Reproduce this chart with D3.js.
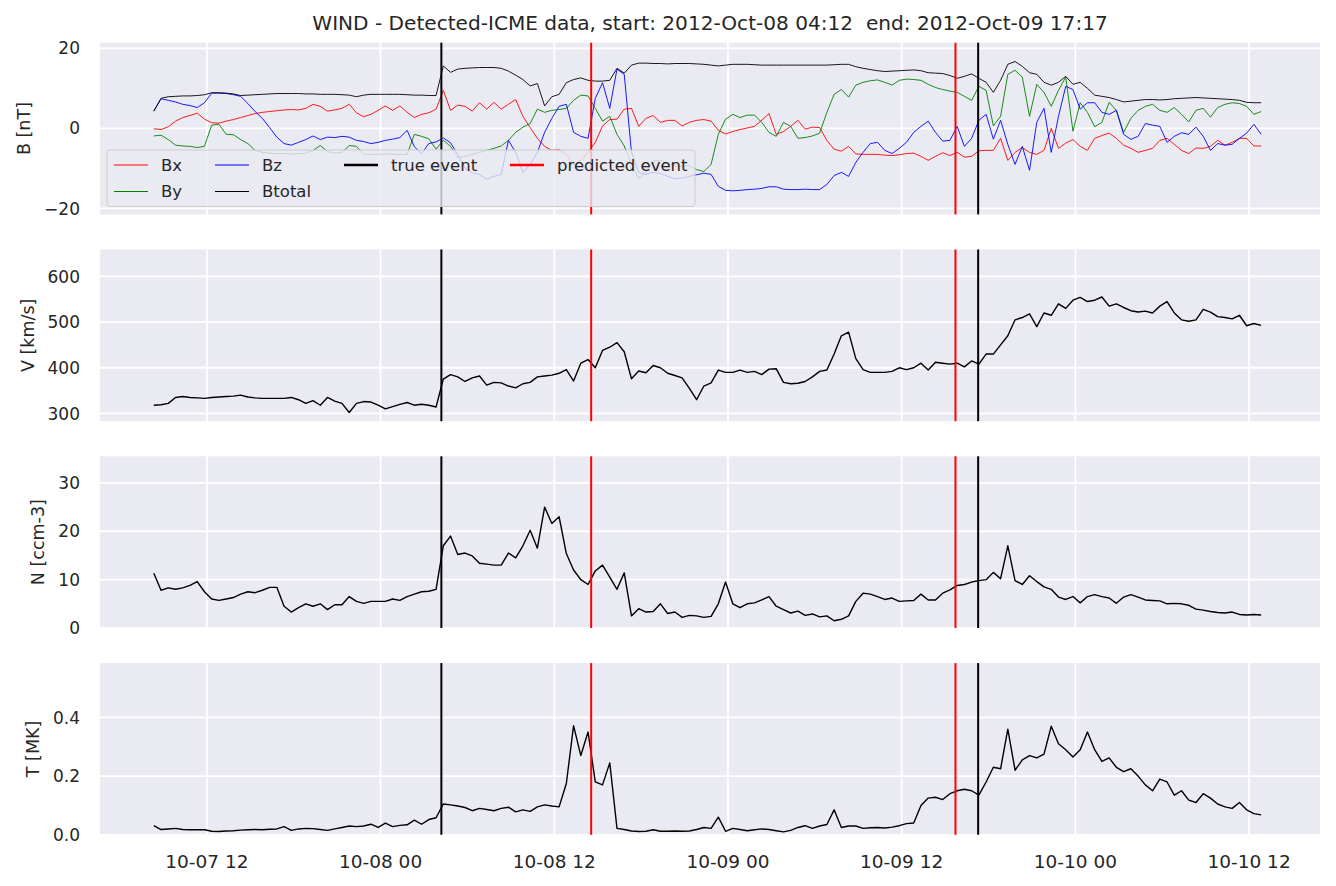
<!DOCTYPE html>
<html><head><meta charset="utf-8">
<script src="https://cdn.jsdelivr.net/npm/d3@7"></script>
<style>
body{margin:0;background:#fff}
svg{display:block}
text{font-family:"DejaVu Sans",sans-serif;fill:#262626;white-space:pre}
</style>
</head><body>
<svg id="chart" width="1336" height="886"></svg>
<script>
// ---------------- DATA ----------------
const titleText = "WIND - Detected-ICME data, start: 2012-Oct-08 04:12  end: 2012-Oct-09 17:17";
const startTime = "2012-10-07T08:20:00";
const stepMinutes = 30;

const Bx = [-0.1,-0.3,0.4,1.8,2.7,3.2,3.8,2.3,1.4,1.3,
 1.8,2.2,2.7,3.2,3.7,4.0,4.2,4.4,4.6,4.7,
 4.6,5.0,6.0,5.5,4.3,4.6,5.0,6.0,3.9,2.9,
 3.5,4.5,5.6,4.5,5.6,4.0,2.7,3.5,3.9,4.8,
 9.5,4.5,5.8,5.5,4.3,6.4,4.8,6.5,4.8,6.0,
 7.2,3.0,0.2,-2.5,-4.5,-5.5,-5.3,-6.5,-9.0,-8.0,
 -6.0,-3.5,0.6,2.2,2.3,4.8,5.0,0.5,2.5,3.2,
 1.5,2.0,2.0,0.6,1.5,2.0,2.2,1.8,-0.5,-1.4,
 -0.8,-0.3,0.1,0.5,2.0,3.7,-1.5,-0.8,0.5,2.0,
 -0.2,0.3,0.2,-3.0,-5.2,-5.7,-4.5,-6.4,-6.5,-6.5,
 -6.5,-6.7,-6.8,-6.6,-6.3,-6.2,-7.0,-8.0,-7.0,-6.1,
 -6.8,-6.0,-7.2,-7.0,-5.6,-5.5,-5.5,-2.5,-8.0,-6.0,
 -4.8,-6.0,-6.5,-5.5,0.0,-5.0,-3.7,-2.8,-4.5,-5.5,
 -2.5,-1.8,-1.2,-2.5,-4.2,-5.0,-6.0,-5.5,-5.0,-3.0,
 -2.5,-4.0,-5.5,-6.3,-4.9,-5.0,-4.5,-3.0,-4.2,-3.5,
 -2.5,-2.5,-4.4,-4.4];

const By = [-1.9,-1.7,-2.8,-4.2,-4.4,-4.5,-4.8,-4.5,0.8,1.0,
 -1.5,-1.6,-2.8,-3.8,-5.5,-6.0,-6.2,-6.3,-6.3,-6.4,
 -6.3,-6.2,-5.5,-4.3,-5.8,-6.2,-6.0,-4.3,-4.5,-6.5,
 -6.5,-6.5,-6.4,-6.5,-6.5,-6.5,-1.5,-2.0,-2.6,-5.2,
 -3.0,-4.5,-7.3,-7.0,-6.5,-6.0,-5.5,-5.0,-4.4,-3.0,
 -1.0,0.3,1.2,4.8,4.0,4.5,4.7,5.0,7.0,8.3,
 8.1,5.0,1.8,3.0,-1.5,-4.4,-9.0,-12.5,-11.0,-8.2,
 -8.0,-8.8,-9.4,-9.4,-9.4,-10.3,-10.8,-9.0,-1.5,2.3,
 3.5,2.7,3.3,3.3,1.5,-1.0,-2.0,1.5,0.5,-2.5,
 -2.3,-1.9,-1.2,4.0,8.5,9.7,7.8,10.8,11.5,11.9,
 12.1,11.5,10.8,12.0,12.3,12.2,12.0,11.0,10.2,9.7,
 9.3,9.0,8.0,7.0,10.5,9.5,0.6,3.0,13.5,14.5,
 12.8,3.0,11.0,9.0,5.5,9.5,12.8,-0.7,6.4,4.0,
 0.4,1.5,6.5,4.5,-1.0,2.5,4.5,5.5,6.0,4.5,
 4.0,5.2,3.5,1.6,4.5,5.0,2.8,5.2,6.0,6.4,
 6.2,5.5,3.5,4.2];

const Bz = [4.3,7.4,7.0,6.6,6.0,5.7,5.2,6.4,8.8,8.8,
 8.7,8.4,8.0,6.2,4.2,2.5,0.2,-2.2,-3.8,-4.2,
 -3.5,-2.8,-1.9,-2.8,-2.2,-2.3,-2.0,-2.2,-3.0,-3.3,
 -3.8,-3.5,-3.0,-2.7,-2.3,-0.5,-4.6,-6.3,-3.8,-3.4,
 -2.4,-3.6,-6.5,-10.0,-11.1,-11.5,-12.7,-12.0,-11.5,-3.0,
 -6.0,-11.0,-9.0,-6.0,-1.0,2.5,5.5,6.0,-1.0,-2.0,
 -2.5,7.5,11.4,5.0,14.8,13.5,-6.0,-11.0,-11.5,-11.0,
 -11.3,-12.0,-12.6,-12.4,-12.0,-11.6,-11.2,-11.5,-14.5,-15.5,
 -15.6,-15.5,-15.3,-15.2,-15.0,-14.6,-14.6,-15.2,-15.3,-15.3,
 -15.2,-15.3,-15.3,-14.0,-11.8,-11.0,-12.0,-8.5,-6.0,-3.8,
 -3.5,-5.5,-6.3,-5.0,-3.5,-1.0,0.5,1.8,-1.0,-3.2,
 -3.0,0.5,-4.5,-2.5,2.0,3.5,-2.7,2.0,-4.0,-9.0,
 -4.5,-10.5,1.5,5.0,-6.0,3.0,10.5,9.7,4.8,6.4,
 6.4,4.0,3.5,4.5,-1.5,-2.75,-2.0,1.2,0.8,0.5,
 -3.5,-2.0,-1.1,-1.5,0.3,-2.0,-5.5,-3.8,-4.2,-4.0,
 -2.5,-1.2,1.0,-1.5];

const Btotal = [4.3,7.5,7.9,8.0,8.1,8.1,8.2,8.4,8.9,8.9,
 8.8,8.6,8.2,8.3,8.4,8.5,8.6,8.7,8.7,8.7,
 8.7,8.6,8.6,8.5,8.5,8.5,8.4,8.3,7.9,8.3,
 8.5,8.5,8.5,8.5,8.5,8.4,8.3,8.3,8.2,8.2,
 15.6,14.0,14.8,15.0,15.1,15.2,15.2,15.2,15.0,14.3,
 13.3,12.2,10.6,11.2,5.6,7.9,8.5,11.4,12.2,12.6,
 12.0,11.8,11.8,12.0,15.0,13.8,15.8,16.3,16.3,16.2,
 16.2,16.1,16.2,16.2,16.2,16.1,16.0,15.8,15.6,15.8,
 16.0,16.0,16.0,15.9,15.8,15.8,15.8,15.8,15.8,15.8,
 15.8,15.8,15.8,15.8,15.9,16.0,16.0,15.4,15.0,14.7,
 14.4,14.2,14.3,14.4,14.5,14.6,14.4,13.9,13.8,13.7,
 13.2,12.5,13.0,13.6,12.5,11.5,9.0,12.0,16.0,16.7,
 15.5,13.9,13.5,11.5,10.8,11.5,13.0,11.0,11.5,10.0,
 8.3,8.0,7.7,7.2,6.6,6.8,7.0,7.2,7.2,7.1,
 7.2,7.4,7.5,7.6,7.7,7.6,7.5,7.4,7.3,7.2,
 7.0,6.5,6.4,6.4];

const V = [318,319,322,335,337,335,334,333,335,336,
 337,338,340,336,334,333,333,333,333,335,
 330,322,328,318,335,327,322,302,322,326,
 325,318,310,315,320,324,318,320,318,314,
 375,385,380,370,378,382,362,368,367,360,
 356,365,368,380,382,384,388,396,371,410,
 418,400,438,445,455,435,376,393,389,405,
 400,388,383,378,355,330,360,367,395,390,
 390,395,390,392,385,397,398,368,365,366,
 370,380,392,395,430,470,478,420,396,390,
 390,390,392,400,396,400,410,395,412,410,
 408,410,402,415,408,430,430,450,470,505,
 510,518,490,520,515,540,530,548,554,545,
 548,555,535,540,532,525,522,524,520,535,
 545,520,505,502,505,528,522,512,510,507,
 515,492,497,493];

const N = [11.3,7.8,8.3,8.0,8.3,8.8,9.6,7.5,6.0,5.7,
 6.0,6.3,7.0,7.5,7.3,7.8,8.4,8.4,4.5,3.3,
 4.2,5.0,4.5,5.0,3.8,4.8,4.8,6.5,5.5,5.1,
 5.5,5.5,5.5,6.0,5.7,6.5,7.0,7.5,7.6,8.0,
 17.0,19.0,15.2,15.5,14.9,13.4,13.2,13.0,13.0,15.5,
 14.5,17.0,20.2,16.5,25.0,21.6,23.0,15.4,12.0,10.0,
 9.0,11.8,13.0,10.5,8.0,11.4,2.5,4.0,3.3,3.4,
 5.0,3.0,3.3,2.2,2.6,2.5,2.2,2.4,5.0,9.5,
 5.0,4.2,5.0,5.2,5.8,6.5,4.5,3.8,3.1,3.5,
 2.6,2.9,2.3,2.5,1.5,1.8,2.5,5.5,7.2,7.0,
 6.5,5.9,6.2,5.5,5.6,5.7,7.0,5.8,5.8,7.2,
 7.9,8.8,9.0,9.5,9.8,10.0,11.5,10.2,17.0,9.8,
 9.0,10.8,9.6,8.5,8.0,6.4,5.9,6.5,5.2,6.5,
 6.9,6.5,6.2,5.1,6.4,6.9,6.4,5.8,5.7,5.6,
 5.0,5.1,5.0,4.7,3.9,3.7,3.4,3.2,3.1,3.3,
 2.8,2.7,2.8,2.7];

const T = [0.031,0.018,0.020,0.022,0.018,0.017,0.017,0.017,0.012,0.011,
 0.013,0.014,0.016,0.017,0.018,0.017,0.019,0.020,0.028,0.015,
 0.020,0.022,0.021,0.018,0.015,0.020,0.025,0.030,0.028,0.030,
 0.036,0.025,0.040,0.028,0.032,0.034,0.050,0.036,0.052,0.058,
 0.105,0.102,0.098,0.093,0.082,0.090,0.086,0.082,0.090,0.094,
 0.078,0.085,0.080,0.095,0.102,0.098,0.095,0.175,0.372,0.270,
 0.350,0.180,0.170,0.245,0.022,0.018,0.013,0.011,0.012,0.017,
 0.012,0.012,0.013,0.012,0.013,0.018,0.025,0.022,0.060,0.012,
 0.022,0.018,0.014,0.017,0.020,0.018,0.014,0.010,0.015,0.025,
 0.031,0.022,0.030,0.035,0.085,0.025,0.030,0.030,0.022,0.024,
 0.025,0.023,0.026,0.031,0.038,0.040,0.100,0.125,0.128,0.120,
 0.140,0.150,0.155,0.150,0.135,0.180,0.230,0.225,0.360,0.220,
 0.255,0.270,0.262,0.275,0.370,0.310,0.290,0.265,0.290,0.350,
 0.290,0.250,0.262,0.230,0.215,0.225,0.200,0.170,0.150,0.190,
 0.180,0.135,0.150,0.118,0.110,0.140,0.125,0.105,0.095,0.090,
 0.110,0.085,0.072,0.068];

const trueEvent = ["2012-10-08T04:12:00", "2012-10-09T17:17:00"];
const predictedEvent = ["2012-10-08T14:33:00", "2012-10-09T15:43:00"];
const xTickTimes = ["2012-10-07T12:00:00","2012-10-08T00:00:00","2012-10-08T12:00:00",
  "2012-10-09T00:00:00","2012-10-09T12:00:00","2012-10-10T00:00:00","2012-10-10T12:00:00"];
const bTicks = [-20, 0, 20];
const vTicks = [300, 400, 500, 600];
const nTicks = [0, 10, 20, 30];
const tTicks = [0.0, 0.2, 0.4];
const bSeriesNames = ["Bx", "By", "Bz", "Btotal"];
const bSeriesColors = ["red", "green", "blue", "black"];

// ---------------- CHART ----------------
const parse = d3.timeParse("%Y-%m-%dT%H:%M:%S");
const t0 = parse(startTime);
const times = V.map((_, i) => d3.timeMinute.offset(t0, i * stepMinutes));

const svg = d3.select("#chart");
const L = 100, R = 1320;
const panelH = 171.7, panelStep = 206.8, top0 = 42.7;
const x = d3.scaleTime()
  .domain([parse("2012-10-07T04:37:00"), parse("2012-10-10T16:54:00")])
  .range([L, R]);
const xTicks = xTickTimes.map(parse);
const bg = "#EAEAF2";

const panels = [
  {label: "B [nT]", domain: [-21.5, 21.4], ticks: bTicks, fmt: d3.format("d"),
   series: [Bx, By, Bz, Btotal].map((v, k) => ({values: v, color: bSeriesColors[k], width: 0.9}))},
  {label: "V [km/s]", domain: [283, 659], ticks: vTicks, fmt: d3.format("d"),
   series: [{values: V, color: "black", width: 1.4}]},
  {label: "N [ccm-3]", domain: [0, 35.5], ticks: nTicks, fmt: d3.format("d"),
   series: [{values: N, color: "black", width: 1.4}]},
  {label: "T [MK]", domain: [0, 0.585], ticks: tTicks, fmt: d3.format(".1f"),
   series: [{values: T, color: "black", width: 1.4}]}
];

svg.append("text").attr("x", (L + R) / 2).attr("y", 30)
  .attr("text-anchor", "middle").attr("xml:space", "preserve")
  .style("font-size", "20.1px").text(titleText);

panels.forEach((p, k) => {
  const top = top0 + k * panelStep, bot = top + panelH;
  const y = d3.scaleLinear().domain(p.domain).range([bot, top]);
  const g = svg.append("g");
  const clipId = "clip" + k;
  svg.append("clipPath").attr("id", clipId).append("rect")
    .attr("x", L).attr("y", top).attr("width", R - L).attr("height", panelH);
  g.append("rect").attr("x", L).attr("y", top).attr("width", R - L).attr("height", panelH).attr("fill", bg);
  // grid
  g.selectAll(".gx").data(xTicks).join("line")
    .attr("x1", d => x(d)).attr("x2", d => x(d)).attr("y1", top).attr("y2", bot)
    .attr("stroke", "white").attr("stroke-width", 1.8);
  g.selectAll(".gy").data(p.ticks).join("line")
    .attr("x1", L).attr("x2", R).attr("y1", d => y(d)).attr("y2", d => y(d))
    .attr("stroke", "white").attr("stroke-width", 1.8);
  // y tick labels
  const tl = g.selectAll(".yt").data(p.ticks).join("text")
    .attr("x", L - 20).attr("y", d => y(d)).attr("dy", "0.36em")
    .attr("text-anchor", "end").style("font-size", "17px").text(p.fmt);
  let minLeft = L;
  tl.each(function () { const b = this.getBBox(); minLeft = Math.min(minLeft, b.x); });
  g.append("text").attr("transform", `translate(${minLeft - 14},${(top + bot) / 2}) rotate(-90)`)
    .attr("text-anchor", "middle").style("font-size", "17.5px").text(p.label);
  // data
  const line = d3.line().x((d, i) => x(times[i])).y(d => y(d));
  const dg = g.append("g").attr("clip-path", `url(#${clipId})`);
  p.series.forEach(s => {
    dg.append("path").datum(s.values).attr("d", line)
      .attr("fill", "none").attr("stroke", s.color).attr("stroke-width", s.width)
      .attr("stroke-linejoin", "round");
  });
  // event lines
  trueEvent.map(parse).forEach(t => g.append("line")
    .attr("x1", x(t)).attr("x2", x(t)).attr("y1", top).attr("y2", bot)
    .attr("stroke", "black").attr("stroke-width", 2));
  predictedEvent.map(parse).forEach(t => g.append("line")
    .attr("x1", x(t)).attr("x2", x(t)).attr("y1", top).attr("y2", bot)
    .attr("stroke", "red").attr("stroke-width", 2));
  // x tick labels on last panel
  if (k === panels.length - 1) {
    const fmt = d3.timeFormat("%m-%d %H");
    g.selectAll(".xt").data(xTicks).join("text")
      .attr("x", d => x(d)).attr("y", bot + 33).attr("text-anchor", "middle")
      .style("font-size", "18.5px").text(fmt);
  }
  // legend on first panel
  if (k === 0) {
    const lg = g.append("g");
    lg.append("rect").attr("x", 107).attr("y", 150).attr("width", 588).attr("height", 56.5)
      .attr("rx", 3).attr("fill", bg).attr("fill-opacity", 0.8).attr("stroke", "#cccccc").attr("stroke-width", 1);
    const items = [
      {name: bSeriesNames[0], color: bSeriesColors[0], w: 1, cx: 114, cy: 165},
      {name: bSeriesNames[1], color: bSeriesColors[1], w: 1, cx: 114, cy: 191.5},
      {name: bSeriesNames[2], color: bSeriesColors[2], w: 1, cx: 215, cy: 165},
      {name: bSeriesNames[3], color: bSeriesColors[3], w: 1, cx: 215, cy: 191.5},
      {name: "true event", color: "black", w: 2.5, cx: 344, cy: 165},
      {name: "predicted event", color: "red", w: 2.5, cx: 510, cy: 165}
    ];
    items.forEach(it => {
      lg.append("line").attr("x1", it.cx).attr("x2", it.cx + 34).attr("y1", it.cy).attr("y2", it.cy)
        .attr("stroke", it.color).attr("stroke-width", it.w);
      lg.append("text").attr("x", it.cx + 47).attr("y", it.cy).attr("dy", "0.36em")
        .style("font-size", "16.5px").text(it.name);
    });
  }
});
</script>
</body></html>
